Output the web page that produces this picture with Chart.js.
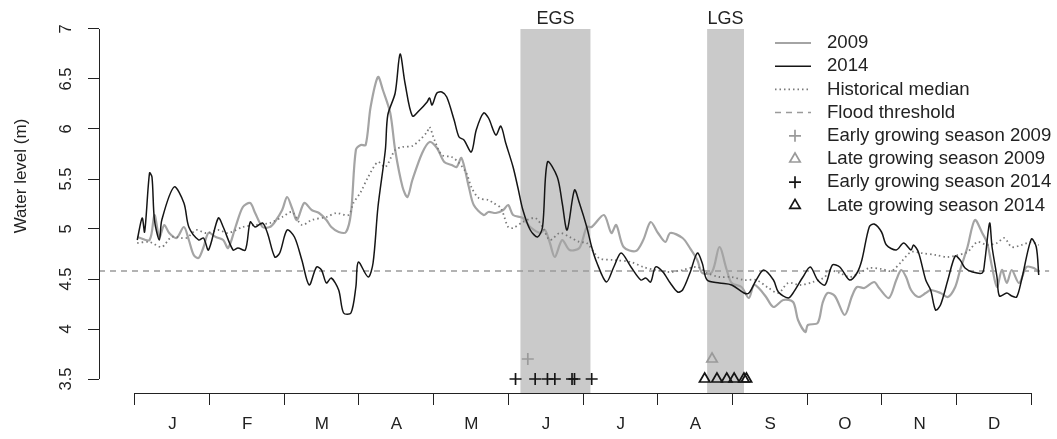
<!DOCTYPE html>
<html>
<head>
<meta charset="utf-8">
<script src="https://cdn.jsdelivr.net/npm/chart.js@4/dist/chart.umd.min.js"></script>
<style>
  html, body { margin: 0; padding: 0; background: #fff; }
  canvas { display: block; }
</style>
</head>
<body>
<canvas id="levelChart" width="1057" height="439"></canvas>
<script>
// ---------- data (day of year, water level in m) ----------
const monthLabels = ['J', 'F', 'M', 'A', 'M', 'J', 'J', 'A', 'S', 'O', 'N', 'D'];
const yTicks = [3.5, 4, 4.5, 5, 5.5, 6, 6.5, 7];

const days2009 = [1,6,8,10,12,14,17,20,22,24,26,28,30,33,36,38,41,44,47,49,52,55,57,60,62,64,66,69,72,75,78,80,83,86,88,90,92,94,96,99,101,104,106,109,111,113,117,120,123,126,129,131,133,136,138,142,144,147,150,152,154,158,161,165,167,169,171,174,177,181,184,186,191,194,196,199,204,207,210,213,216,218,223,226,229,231,235,238,241,243,247,250,252,254,257,260,264,268,270,273,274,278,280,282,285,289,292,294,297,301,303,307,310,312,314,316,319,322,324,328,331,334,336,339,342,345,347,349,351,353,355,357,360,363,366,368];
const level2009 = [4.92,4.89,5.14,4.92,5.04,4.96,4.91,5.02,4.89,4.74,4.71,4.82,4.96,4.92,4.89,4.81,5.02,5.22,5.26,5.16,5.02,5.02,5.07,5.19,5.32,5.21,5.09,5.26,5.19,5.16,5.09,5.02,4.97,4.97,5.16,5.79,5.84,5.84,6.22,6.52,6.39,6.16,5.79,5.42,5.32,5.49,5.76,5.87,5.81,5.67,5.64,5.62,5.71,5.42,5.24,5.14,5.17,5.16,5.19,5.24,5.14,5.11,5.02,4.96,4.99,4.86,4.72,4.89,4.79,4.81,5.02,5.02,5.14,4.96,5.04,4.82,4.78,4.89,5.07,4.96,4.87,4.96,4.91,4.81,4.69,4.56,4.57,4.82,4.59,4.46,4.42,4.31,4.44,4.41,4.32,4.22,4.29,4.27,4.09,3.97,4.04,4.06,4.26,4.36,4.33,4.14,4.33,4.42,4.41,4.47,4.41,4.31,4.49,4.59,4.52,4.39,4.32,4.36,4.39,4.36,4.32,4.42,4.59,4.82,5.09,4.96,4.86,4.62,4.42,4.59,4.46,4.59,4.46,4.62,4.61,4.57];

const days2014 = [1,3,4,6,7,8,10,11,16,20,22,26,28,30,34,36,40,42,45,47,49,52,54,57,59,62,65,68,71,74,76,78,80,83,85,88,90,91,95,97,99,102,103,106,108,110,113,116,119,120,121,123,125,127,130,132,134,137,139,142,144,147,149,151,154,156,158,161,164,166,168,172,174,176,179,181,184,186,188,192,195,198,202,206,208,210,212,215,218,221,223,226,229,231,233,238,243,248,250,253,256,260,262,266,268,272,275,278,281,284,287,291,294,296,299,301,304,306,310,313,316,317,319,322,324,326,328,331,334,336,338,341,345,346,348,349,351,352,355,357,359,361,365,367,368];
const level2014 = [4.89,5.11,4.97,5.56,5.52,5.09,4.89,5.09,5.42,5.26,5.02,4.89,4.91,4.79,5.11,5.02,4.79,4.81,4.79,5.07,5.02,5.06,4.96,4.72,4.76,4.99,4.92,4.69,4.44,4.62,4.59,4.46,4.51,4.39,4.16,4.16,4.42,4.67,4.52,4.66,5.22,5.79,6.14,6.36,6.75,6.46,6.13,6.19,6.27,6.31,6.24,6.36,6.37,6.32,6.09,5.92,5.89,5.77,5.99,6.16,6.11,5.94,6.03,5.86,5.62,5.41,5.19,4.99,4.92,5.02,5.67,5.52,5.26,4.99,5.39,5.26,5.02,4.82,4.67,4.47,4.62,4.76,4.62,4.49,4.51,4.47,4.62,4.57,4.46,4.37,4.39,4.56,4.76,4.66,4.49,4.46,4.44,4.36,4.36,4.49,4.59,4.49,4.37,4.31,4.36,4.52,4.62,4.49,4.44,4.64,4.62,4.49,4.56,4.69,5.02,5.05,4.97,4.84,4.79,4.86,4.79,4.84,4.77,4.49,4.39,4.19,4.24,4.49,4.73,4.69,4.61,4.57,4.56,4.67,5.06,4.82,4.52,4.33,4.36,4.33,4.32,4.49,4.9,4.82,4.54];

const daysMedian = [1,6,11,15,21,25,29,34,38,44,49,55,60,64,68,72,78,82,87,89,92,95,99,102,106,109,113,116,119,120,122,125,129,132,135,137,140,144,146,149,152,154,158,163,166,169,173,177,181,184,189,195,202,207,212,218,223,229,233,238,243,248,253,258,262,266,271,276,281,282,287,291,295,299,304,308,312,316,320,326,331,335,339,343,347,351,354,357,361,365,368];
const levelMedian = [4.86,4.87,4.82,4.92,4.91,4.99,4.96,4.99,4.96,5.02,5.04,5.06,5.12,5.17,5.04,5.09,5.12,5.16,5.14,5.26,5.37,5.52,5.67,5.62,5.79,5.82,5.83,5.89,5.97,6.02,5.89,5.74,5.72,5.66,5.56,5.42,5.31,5.29,5.26,5.21,5.02,5.01,5.07,5.11,5.02,4.89,4.96,4.92,4.87,4.86,4.71,4.69,4.67,4.62,4.59,4.57,4.59,4.62,4.56,4.52,4.52,4.49,4.49,4.41,4.36,4.46,4.44,4.47,4.52,4.59,4.56,4.52,4.56,4.61,4.6,4.58,4.67,4.77,4.76,4.74,4.72,4.74,4.77,4.87,4.84,4.86,4.91,4.82,4.84,4.87,4.84];

const floodLevel = 4.58;

// growing-season windows and the days marked inside them
const seasonNames = ['EGS', 'LGS'];
const seasonStart = [157, 233];
const seasonEnd = [185.5, 248];
const earlyDays2009 = [160];
const lateDays2009 = [235];
const earlyDays2014 = [155, 163, 168, 171, 178, 179, 186];
const lateDays2014 = [232, 237, 241, 244, 248, 249];
const markLevel2009 = 3.7;
const markLevel2014 = 3.5;

// ---------- helpers ----------
const pairs = (xs, ys) => xs.map((d, i) => ({ x: d, y: ys[i] }));
const atLevel = (xs, level) => xs.map(d => ({ x: d, y: level }));

const X_MIN = -14.57, X_MAX = 372.3;
const monthEdges = Array.from({ length: 13 }, (_, i) => i * 365 / 12);
const FONT = "'Liberation Sans', Arial, Helvetica, sans-serif";

// bands, axis lines, rotated y labels and legend
const decorPlugin = {
    id: 'decor',
    beforeDatasetsDraw(chart) {
        const { ctx, chartArea, scales: { x, y } } = chart;
        const top = y.getPixelForValue(yTicks[yTicks.length - 1]);
        ctx.save();
        ctx.font = '18px ' + FONT;
        ctx.textAlign = 'center';
        ctx.textBaseline = 'middle';
        seasonNames.forEach((name, i) => {
            const x0 = x.getPixelForValue(seasonStart[i]);
            const x1 = x.getPixelForValue(seasonEnd[i]);
            ctx.fillStyle = '#cacaca';
            ctx.fillRect(x0, top, x1 - x0, chartArea.bottom - top);
            ctx.fillStyle = '#222';
            ctx.fillText(name, (x0 + x1) / 2, top - 10);
        });
        ctx.restore();
    },
    afterDraw(chart) {
        const { ctx, chartArea, scales: { x, y } } = chart;
        ctx.save();
        ctx.strokeStyle = '#222';
        ctx.lineWidth = 1;

        // axis lines only span the tick range
        ctx.beginPath();
        ctx.moveTo(chartArea.left + 0.5, y.getPixelForValue(yTicks[0]));
        ctx.lineTo(chartArea.left + 0.5, y.getPixelForValue(yTicks[yTicks.length - 1]));
        ctx.moveTo(x.getPixelForValue(monthEdges[0]), chartArea.bottom + 0.5);
        ctx.lineTo(x.getPixelForValue(monthEdges[12]), chartArea.bottom + 0.5);
        ctx.stroke();

        // y tick labels run along the axis
        ctx.fillStyle = '#222';
        ctx.textAlign = 'center';
        ctx.textBaseline = 'middle';
        ctx.font = '16.5px ' + FONT;
        yTicks.forEach(v => {
            ctx.save();
            ctx.translate(66, y.getPixelForValue(v));
            ctx.rotate(-Math.PI / 2);
            ctx.fillText(String(v), 0, 0);
            ctx.restore();
        });
        ctx.font = '17px ' + FONT;
        ctx.save();
        ctx.translate(21, 176);
        ctx.rotate(-Math.PI / 2);
        ctx.fillText('Water level (m)', 0, 0);
        ctx.restore();

        // legend
        ctx.font = '18.6px ' + FONT;
        ctx.textAlign = 'left';
        chart.data.datasets.forEach((ds, i) => {
            const ly = 43 + i * 23.2;
            ctx.strokeStyle = ds.borderColor;
            if (ds.showLine === false) {
                ctx.fillStyle = 'rgba(0,0,0,0)';
                ctx.lineWidth = ds.pointBorderWidth;
                Chart.helpers.drawPoint(ctx, {
                    pointStyle: ds.pointStyle, radius: ds.pointRadius,
                    rotation: 0, borderWidth: ds.pointBorderWidth
                }, 795, ly);
            } else {
                ctx.lineWidth = ds.borderWidth;
                ctx.setLineDash(ds.borderDash || []);
                ctx.beginPath();
                ctx.moveTo(775, ly);
                ctx.lineTo(811, ly);
                ctx.stroke();
                ctx.setLineDash([]);
            }
            ctx.fillStyle = '#222';
            ctx.fillText(ds.label, 827, ly);
        });
        ctx.restore();
    }
};

function markerSet(label, points, style, color, order) {
    return {
        label: label,
        data: points,
        showLine: false,
        pointStyle: style,
        pointRadius: style === 'triangle' ? 6 : 6,
        pointBorderWidth: 1.7,
        pointBorderColor: color,
        borderColor: color,
        pointBackgroundColor: 'rgba(0,0,0,0)',
        order: order
    };
}

new Chart(document.getElementById('levelChart'), {
    type: 'line',
    data: {
        datasets: [
            { label: '2009', data: pairs(days2009, level2009), borderColor: '#a4a4a4',
              borderWidth: 2.2, pointRadius: 0, tension: 0.3, order: 4 },
            { label: '2014', data: pairs(days2014, level2014), borderColor: '#151515',
              borderWidth: 1.5, pointRadius: 0, tension: 0.3, order: 2 },
            { label: 'Historical median', data: pairs(daysMedian, levelMedian), borderColor: '#7a7a7a',
              borderWidth: 1.8, borderDash: [1.5, 3], pointRadius: 0, tension: 0.3, order: 3 },
            { label: 'Flood threshold', data: atLevel([X_MIN, X_MAX], floodLevel), borderColor: '#9a9a9a',
              borderWidth: 1.5, borderDash: [6, 5], pointRadius: 0, order: 5 },
            markerSet('Early growing season 2009', atLevel(earlyDays2009, markLevel2009), 'cross', '#9a9a9a', 1),
            markerSet('Late growing season 2009', atLevel(lateDays2009, markLevel2009), 'triangle', '#9a9a9a', 1),
            markerSet('Early growing season 2014', atLevel(earlyDays2014, markLevel2014), 'cross', '#151515', 1),
            markerSet('Late growing season 2014', atLevel(lateDays2014, markLevel2014), 'triangle', '#151515', 1)
        ]
    },
    options: {
        responsive: false,
        animation: false,
        devicePixelRatio: 1,
        layout: { padding: { top: 15, right: 2, left: 0, bottom: 0 } },
        plugins: { legend: { display: false }, tooltip: { enabled: false } },
        scales: {
            x: {
                type: 'linear',
                min: X_MIN,
                max: X_MAX,
                afterBuildTicks: s => { s.ticks = monthEdges.map(v => ({ value: v })); },
                afterFit: s => { s.height = 46; },
                border: { display: false },
                grid: { drawOnChartArea: false, drawTicks: true, tickLength: 12, color: '#222' },
                ticks: {
                    autoSkip: false, maxRotation: 0, minRotation: 0,
                    labelOffset: 37.6, padding: 9, color: '#222',
                    font: { family: FONT, size: 17 },
                    callback: (v, i) => monthLabels[i] || ''
                }
            },
            y: {
                type: 'linear',
                min: 3.36,
                max: 7.14,
                afterBuildTicks: s => { s.ticks = yTicks.map(v => ({ value: v })); },
                afterFit: s => { s.width = 99; },
                border: { display: false },
                grid: { drawOnChartArea: false, drawTicks: true, tickLength: 11, color: '#222' },
                ticks: { display: false }
            }
        }
    },
    plugins: [decorPlugin]
});
</script>
</body>
</html>
